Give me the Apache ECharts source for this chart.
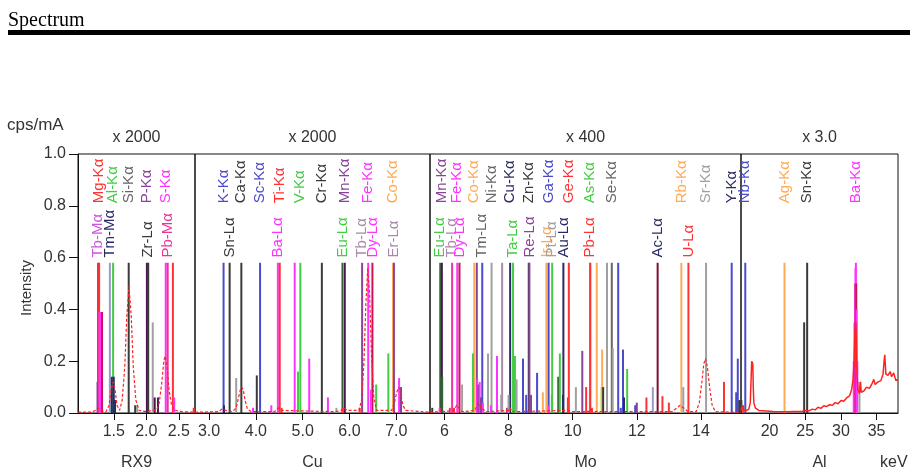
<!DOCTYPE html>
<html>
<head>
<meta charset="utf-8">
<script src="https://cdn.jsdelivr.net/npm/echarts@6/dist/echarts.min.js"></script>
<style>
html, body { margin: 0; padding: 0; background: #fff; }
#echarts_container { width: 910px; height: 471px; }
</style>
</head>
<body>
<div id="echarts_container"></div>
<script>
// ---- data ----
var panelNames = ['RX9', 'Cu', 'Mo', 'Al'];
var panelScales = ['x 2000', 'x 2000', 'x 400', 'x 3.0'];
var panelRanges = [[0.95, 2.75], [2.7, 7.72], [5.55, 15.25], [16, 38]];
var panelTicks = [[1.5, 2.0, 2.5], [3, 4, 5, 6, 7], [6, 8, 10, 12, 14], [20, 25, 30, 35]];
var yTicks = [0, 0.2, 0.4, 0.6, 0.8, 1.0];

// element lines (energy keV / name / colour key)
var rxLineE = [1.26, 1.275, 1.44, 1.49, 1.73, 2.01, 2.03, 2.30, 2.33, 2.41];
var rxLineN = ['Tb-Mα', 'Mg-Kα', 'Tm-Mα', 'Al-Kα', 'Si-Kα', 'P-Kα', 'Zr-Lα', 'S-Kα', 'Pb-Mα', ''];
var rxLineT = ['crim', 'red', 'lav', 'grn', 'blk', 'dpur', 'blk', 'mag', 'pink', 'red'];

var cuLineE = [3.31, 3.44, 3.69, 4.09, 4.47, 4.51, 4.83, 4.95, 5.41, 5.85, 5.90, 6.27, 6.40, 6.49, 6.93, 6.95];
var cuLineN = ['K-Kα', 'Sn-Lα', 'Ca-Kα', 'Sc-Kα', 'Ba-Lα', 'Ti-Kα', '', 'V-Kα', 'Cr-Kα', 'Eu-Lα', 'Mn-Kα', 'Tb-Lα', 'Fe-Kα', 'Dy-Lα', 'Co-Kα', 'Er-Lα'];
var cuLineT = ['blu', 'blk', 'blk', 'blu', 'mag', 'red', 'mag', 'grn', 'blk', 'dgrn', 'dpur', 'pur', 'mag', 'crim', 'org', 'pur'];

var moLineE = [5.87, 5.92, 6.24, 6.40, 6.47, 6.93, 7.01, 7.18, 7.47, 7.80, 8.05, 8.14, 8.63, 8.65, 9.18, 9.25, 9.36, 9.71, 9.88,
               10.54, 10.55, 10.75, 11.07, 11.22, 11.42, 12.65, 13.39, 13.61, 14.16, 14.96];
var moLineN = ['Eu-Lα', 'Mn-Kα', 'Tb-Lα', 'Fe-Kα', 'Dy-Lα', 'Co-Kα', '', 'Tm-Lα', 'Ni-Kα', '', 'Cu-Kα', 'Ta-Lα', 'Zn-Kα', 'Re-Lα',
               'Ir-Lα', 'Ga-Kα', 'Pt-Lα', 'Au-Lα', 'Ge-Kα', 'As-Kα', 'Pb-Lα', '', '', 'Se-Kα', '', 'Ac-Lα', 'Rb-Kα', 'U-Lα', 'Sr-Kα', 'Y-Kα'];
var moLineT = ['dgrn', 'dpur', 'pink', 'mag', 'crim', 'org', 'pur', 'blu', 'gry', 'pgr', 'nav', 'grn', 'blk', 'pur',
               'org', 'blu', 'grn', 'nav', 'red', 'grn', 'red', 'org', 'gry', 'gry2', 'blu', 'mar', 'org', 'red', 'gry', 'blu'];

var alLineE = [16.6, 22.1, 25.27, 32.1];
var alLineN = ['Nb-Kα', 'Ag-Kα', 'Sn-Kα', 'Ba-Kα'];
var alLineT = ['blu', 'org', 'blk', 'mag'];

// label colour where it differs from the line
var labelTone = {
    'Tb-Mα': 'vio', 'Tm-Mα': 'nav', 'Si-Kα': 'gry2', 'P-Kα': 'pur', 'Eu-Lα': 'grn', 'Mn-Kα': 'pur',
    'Tb-Lα': 'pgr', 'Dy-Lα': 'mag', 'Er-Lα': 'pgr', 'Tm-Lα': 'gry2', 'Ni-Kα': 'gry2', 'Pt-Lα': 'gry',
    'Ac-Lα': 'nav', 'Y-Kα': 'nav', 'Se-Kα': 'gry2'
};

// measured peaks (energy, intensity, colour key)
var rxBarE = [1.25, 1.28, 1.30, 1.32, 1.47, 1.50, 1.52, 1.83, 1.86, 2.10, 2.13, 2.18, 2.43, 2.73];
var rxBarV = [0.12, 0.39, 0.39, 0.39, 0.14, 0.14, 0.05, 0.03, 0.03, 0.35, 0.06, 0.06, 0.06, 0.02];
var rxBarT = ['pur', 'mag', 'mag', 'crim', 'nav', 'nav', 'nav', 'blk', 'gry', 'gry', 'dpur', 'dpur', 'mag', 'red'];

var cuBarE = [3.32, 3.58, 3.94, 4.02, 4.33, 4.55, 4.90, 5.14, 5.54, 5.72, 5.86, 6.22, 6.46, 6.57, 6.83, 7.06, 7.10];
var cuBarV = [0.03, 0.135, 0.02, 0.145, 0.03, 0.02, 0.16, 0.21, 0.06, 0.02, 0.02, 0.02, 0.09, 0.11, 0.23, 0.135, 0.10];
var cuBarT = ['nav', 'gry', 'mag', 'blk', 'mag', 'red', 'grn', 'mag', 'mag', 'gry', 'red', 'red', 'mag', 'grn', 'grn', 'mag', 'pur'];

var moBarE = [5.62, 5.85, 5.93, 6.17, 6.30, 6.55, 6.89, 6.97, 7.02, 7.06, 7.10, 7.14, 7.20, 7.36, 7.45, 7.64, 7.77, 7.95, 8.00,
              8.20, 8.25, 8.45, 8.55, 8.70, 8.89, 9.07, 9.25, 9.35, 9.55, 9.60, 9.70, 9.85, 10.10, 10.30, 10.42, 10.60,
              10.90, 10.92, 10.95, 11.25, 11.50, 11.57, 11.60, 11.70, 11.95, 12.00, 12.30, 12.50, 12.80, 13.00, 13.45,
              14.72, 15.10, 15.15, 15.20];
var moBarV = [0.02, 0.02, 0.14, 0.02, 0.02, 0.11, 0.23, 0.02, 0.13, 0.11, 0.12, 0.06, 0.04, 0.23, 0.03, 0.22, 0.07, 0.02, 0.07,
              0.22, 0.13, 0.21, 0.07, 0.07, 0.155, 0.08, 0.03, 0.07, 0.14, 0.23, 0.07, 0.06, 0.10, 0.24, 0.10, 0.02,
              0.10, 0.245, 0.10, 0.25, 0.02, 0.245, 0.06, 0.17, 0.03, 0.04, 0.06, 0.10, 0.065, 0.04, 0.10,
              0.12, 0.08, 0.21, 0.05];
var moBarT = ['blk', 'mag', 'dgrn', 'pink', 'red', 'gry', 'grn', 'org', 'mag', 'pur', 'mag', 'pur', 'mag', 'gry', 'mag', 'mag', 'gry', 'pur', 'gry',
              'grn', 'gry', 'blu', 'blu', 'pur', 'blu', 'org', 'mag', 'grn', 'dgrn', 'grn', 'nav', 'red', 'gry', 'pur', 'red', 'red',
              'ylw', 'org', 'blk', 'gry', 'blu', 'blu', 'nav', 'grn', 'blu', 'pur', 'red', 'lav', 'red', 'red', 'gry',
              'red', 'blu', 'blu', 'blk'];

var alBarE = [16.05, 16.3, 24.85, 31.8, 31.9, 32.0, 32.05, 32.15, 32.2, 32.3, 32.6];
var alBarV = [0.05, 0.03, 0.35, 0.2, 0.35, 0.5, 0.56, 0.5, 0.4, 0.2, 0.12];
var alBarT = ['blk', 'red', 'blk', 'mag', 'mag', 'crim', 'mag', 'crim', 'mag', 'mag', 'gry'];

// fitted profiles (dashed) and raw spectrum of the Al window
var rxFit = [[0.95, 0.003], [1.15, 0.003], [1.22, 0.01], [1.26, 0.02], [1.30, 0.01], [1.38, 0.005], [1.43, 0.03], [1.46, 0.09],
             [1.49, 0.12], [1.52, 0.09], [1.55, 0.03], [1.59, 0.01], [1.63, 0.05], [1.67, 0.18], [1.70, 0.37], [1.735, 0.49],
             [1.77, 0.37], [1.80, 0.18], [1.84, 0.05], [1.89, 0.01], [2.0, 0.005], [2.1, 0.01], [2.16, 0.01], [2.20, 0.04],
             [2.24, 0.12], [2.27, 0.2], [2.29, 0.22], [2.32, 0.18], [2.35, 0.09], [2.39, 0.03], [2.44, 0.01], [2.55, 0.005], [2.75, 0.003]];
var cuFit = [[2.7, 0.003], [3.2, 0.005], [3.28, 0.015], [3.32, 0.02], [3.36, 0.01], [3.5, 0.005], [3.58, 0.02], [3.63, 0.06],
             [3.67, 0.09], [3.70, 0.10], [3.73, 0.09], [3.77, 0.05], [3.82, 0.015], [3.9, 0.005], [4.4, 0.005], [4.48, 0.02],
             [4.55, 0.01], [5.7, 0.005], [5.82, 0.01], [5.88, 0.02], [5.95, 0.01], [6.2, 0.01], [6.26, 0.05], [6.31, 0.2],
             [6.35, 0.42], [6.39, 0.56], [6.43, 0.46], [6.47, 0.22], [6.52, 0.06], [6.58, 0.01], [6.9, 0.01], [6.96, 0.04],
             [7.01, 0.08], [7.05, 0.10], [7.09, 0.08], [7.14, 0.03], [7.2, 0.01], [7.72, 0.003]];
var moFit = [[5.55, 0.003], [5.85, 0.005], [5.9, 0.015], [5.95, 0.005], [6.3, 0.01], [6.38, 0.03], [6.45, 0.02], [6.55, 0.005],
             [6.95, 0.01], [7.05, 0.04], [7.15, 0.02], [7.3, 0.005], [8.0, 0.01], [8.05, 0.02], [8.1, 0.005], [9.85, 0.01],
             [9.9, 0.015], [10.0, 0.005], [10.5, 0.005], [10.55, 0.015], [10.65, 0.005], [13.1, 0.005], [13.25, 0.02],
             [13.35, 0.03], [13.45, 0.02], [13.6, 0.005], [13.85, 0.005], [13.95, 0.04], [14.03, 0.12], [14.09, 0.19],
             [14.14, 0.21], [14.2, 0.18], [14.27, 0.1], [14.35, 0.03], [14.45, 0.005], [15.25, 0.003]];
var alSpec = [[16.0, 0.01], [16.2, 0.03], [16.4, 0.01], [16.8, 0.01], [17.1, 0.015], [17.3, 0.04], [17.4, 0.12], [17.5, 0.2],
              [17.65, 0.19], [17.72, 0.1], [17.8, 0.04], [18.0, 0.02], [18.5, 0.01], [19.5, 0.008], [20.5, 0.006], [21.5, 0.005],
              [22.5, 0.005], [23.5, 0.006], [24.5, 0.006], [25.0, 0.01], [25.5, 0.008], [26.0, 0.015], [26.4, 0.012],
              [26.8, 0.022], [27.2, 0.018], [27.6, 0.028], [28.0, 0.025], [28.4, 0.032], [28.8, 0.03], [29.2, 0.04],
              [29.6, 0.036], [30.0, 0.048], [30.4, 0.045], [30.8, 0.058], [31.2, 0.066], [31.5, 0.09], [31.7, 0.13],
              [31.85, 0.2], [31.95, 0.3], [32.1, 0.35], [32.25, 0.15], [32.4, 0.09], [32.6, 0.075], [32.75, 0.12],
              [32.85, 0.08], [33.2, 0.085], [33.6, 0.1], [34.0, 0.095], [34.4, 0.115], [34.6, 0.13], [34.8, 0.11],
              [35.2, 0.12], [35.6, 0.125], [35.9, 0.15], [36.05, 0.2], [36.15, 0.225], [36.3, 0.15], [36.6, 0.145],
              [36.9, 0.16], [37.1, 0.14], [37.4, 0.155], [37.7, 0.125], [38.0, 0.13]];

// ---- look ----
var tones = {
    mag: '#ff33ff', pink: '#ee3399', crim: '#d0105a', red: '#ff3333', grn: '#44cc44', dgrn: '#336633',
    gry: '#a0a0a0', gry2: '#666666', blk: '#3a3a3a', blu: '#4a4acc', nav: '#2a2a66', pur: '#884499',
    dpur: '#4a1850', org: '#ffaa55', mar: '#7a1030', lav: '#9999cc', vio: '#cc55dd', ylw: '#cccc33', pgr: '#aa88aa'
};
var FONT = '"Liberation Sans", Arial, sans-serif';
var LINE_TOP = 0.58, ROW_UP = 0.81, ROW_LOW = 0.60;
var PLOT_TOP = 154, PLOT_H = 259;
var layout = [{ left: 78, width: 117 }, { left: 195, width: 235 }, { left: 430, width: 311 }, { left: 741, width: 157 }];

var chartDom = document.getElementById('echarts_container');
var myChart = echarts.init(chartDom);

function markers(idx, E, N, T) {
    return {
        type: 'custom', coordinateSystem: 'cartesian2d', xAxisIndex: idx, yAxisIndex: idx, z: 2, clip: false,
        data: E.map(function (e) { return [e, LINE_TOP]; }),
        renderItem: function (params, api) {
            var i = params.dataIndex;
            var p0 = api.coord([api.value(0), 0]);
            var p1 = api.coord([api.value(0), api.value(1)]);
            var name = N[i];
            var kids = [{
                type: 'line', shape: { x1: p0[0], y1: p0[1], x2: p1[0], y2: p1[1] },
                style: { stroke: tones[T[i]], lineWidth: 2 }
            }];
            if (name) {
                var pl = api.coord([api.value(0), name.indexOf('-K') >= 0 ? ROW_UP : ROW_LOW]);
                kids.push({
                    type: 'text', x: pl[0], y: pl[1], rotation: Math.PI / 2,
                    style: {
                        text: name, fill: tones[labelTone[name] || T[i]], font: '15px ' + FONT,
                        align: 'left', verticalAlign: 'middle', textAlign: 'left', textVerticalAlign: 'middle'
                    }
                });
            }
            return { type: 'group', children: kids };
        }
    };
}

function bars(idx, E, V, T) {
    return {
        type: 'custom', coordinateSystem: 'cartesian2d', xAxisIndex: idx, yAxisIndex: idx, z: 3,
        data: E.map(function (e, i) { return [e, V[i]]; }),
        renderItem: function (params, api) {
            var p0 = api.coord([api.value(0), 0]);
            var p1 = api.coord([api.value(0), api.value(1)]);
            return {
                type: 'line', shape: { x1: p0[0], y1: p0[1], x2: p1[0], y2: p1[1] },
                style: { stroke: tones[T[params.dataIndex]], lineWidth: 2 }
            };
        }
    };
}

function curve(idx, data, dashed) {
    return {
        type: 'line', xAxisIndex: idx, yAxisIndex: idx, z: 4, data: data, showSymbol: false, silent: true,
        lineStyle: { color: '#ff2222', width: dashed ? 1.2 : 1.5, type: dashed ? [3, 2] : 'solid' }
    };
}

var grids = [], xAxes = [], yAxes = [], graphics = [];
layout.forEach(function (g, i) {
    grids.push({
        left: g.left, width: g.width, top: PLOT_TOP, height: PLOT_H, outerBoundsMode: 'none',
        show: true, borderColor: '#111', borderWidth: 1
    });
    xAxes.push({
        type: 'value', gridIndex: i, min: panelRanges[i][0], max: panelRanges[i][1],
        name: panelNames[i], nameLocation: 'middle', nameGap: 42,
        nameTextStyle: { fontFamily: FONT, fontSize: 16, color: '#333' },
        axisLine: { show: true, lineStyle: { color: '#111' } },
        axisTick: { show: true, customValues: panelTicks[i], length: 7, lineStyle: { color: '#111' } },
        axisLabel: {
            customValues: panelTicks[i], margin: 11, fontFamily: FONT, fontSize: 16, color: '#333',
            formatter: function (v) { return i < 2 ? v.toFixed(1) : String(v); }
        },
        splitLine: { show: false }
    });
    yAxes.push({
        type: 'value', gridIndex: i, min: 0, max: 1, interval: 0.2, show: i === 0,
        axisLine: { show: true, lineStyle: { color: '#111' } },
        axisTick: { show: true, length: 9, lineStyle: { color: '#111' } },
        axisLabel: { margin: 12, fontFamily: FONT, fontSize: 16, color: '#333', formatter: function (v) { return v.toFixed(1); } },
        splitLine: { show: false }
    });
    graphics.push({
        type: 'text', x: g.left + g.width / 2, y: 138,
        style: { text: panelScales[i], font: '16px ' + FONT, fill: '#333', align: 'center', verticalAlign: 'middle', textAlign: 'center', textVerticalAlign: 'middle' }
    });
});

graphics.push(
    { type: 'text', x: 8, y: 21, style: { text: 'Spectrum', font: '20px "Liberation Serif", serif', fill: '#000', align: 'left', verticalAlign: 'middle', textAlign: 'left', textVerticalAlign: 'middle' } },
    { type: 'rect', shape: { x: 8, y: 30, width: 902, height: 5 }, style: { fill: '#000' } },
    { type: 'text', x: 7, y: 125, style: { text: 'cps/mA', font: '17px ' + FONT, fill: '#333', align: 'left', verticalAlign: 'middle', textAlign: 'left', textVerticalAlign: 'middle' } },
    { type: 'text', x: 27, y: 288, rotation: Math.PI / 2, style: { text: 'Intensity', font: '15px ' + FONT, fill: '#333', align: 'center', verticalAlign: 'middle', textAlign: 'center', textVerticalAlign: 'middle' } },
    { type: 'text', x: 880, y: 463, style: { text: 'keV', font: '16px ' + FONT, fill: '#333', align: 'left', verticalAlign: 'middle', textAlign: 'left', textVerticalAlign: 'middle' } }
);

var option = {
    animation: false,
    backgroundColor: '#fff',
    grid: grids,
    xAxis: xAxes,
    yAxis: yAxes,
    graphic: graphics,
    series: [
        markers(0, rxLineE, rxLineN, rxLineT), bars(0, rxBarE, rxBarV, rxBarT), curve(0, rxFit, true),
        markers(1, cuLineE, cuLineN, cuLineT), bars(1, cuBarE, cuBarV, cuBarT), curve(1, cuFit, true),
        markers(2, moLineE, moLineN, moLineT), bars(2, moBarE, moBarV, moBarT), curve(2, moFit, true),
        markers(3, alLineE, alLineN, alLineT), bars(3, alBarE, alBarV, alBarT), curve(3, alSpec, false)
    ]
};

option && myChart.setOption(option);
</script>
</body>
</html>
